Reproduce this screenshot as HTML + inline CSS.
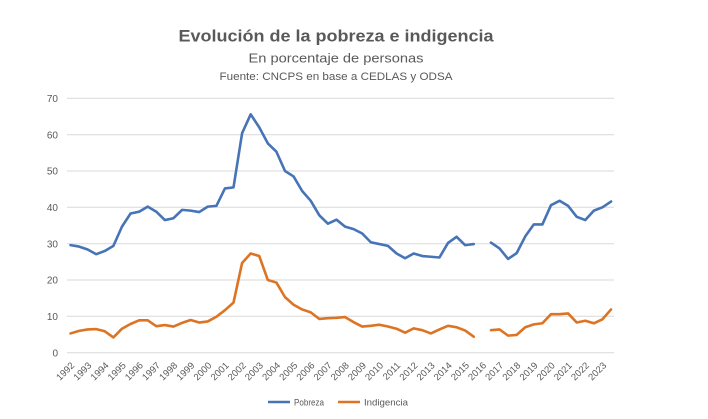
<!DOCTYPE html>
<html>
<head>
<meta charset="utf-8">
<style>
  html, body { margin: 0; padding: 0; background: #ffffff; }
  body { width: 708px; height: 419px; overflow: hidden; }
  svg { display: block; }
  text { font-family: "Liberation Sans", "DejaVu Sans", sans-serif; fill: #595959; }
</style>
</head>
<body>
<svg width="708" height="419" viewBox="0 0 708 419" xmlns="http://www.w3.org/2000/svg">
  <rect x="0" y="0" width="708" height="419" fill="#ffffff"/>

  <!-- Titles -->
  <text x="336" y="41.5" text-anchor="middle" font-size="16.5" font-weight="bold" textLength="315" lengthAdjust="spacingAndGlyphs">Evolución de la pobreza e indigencia</text>
  <text x="336" y="62.3" text-anchor="middle" font-size="12.5" textLength="175" lengthAdjust="spacingAndGlyphs">En porcentaje de personas</text>
  <text x="336" y="80" text-anchor="middle" font-size="11" textLength="233" lengthAdjust="spacingAndGlyphs">Fuente: CNCPS en base a CEDLAS y ODSA</text>

  <!-- Gridlines -->
  <g stroke="#d9d9d9" stroke-width="1">
    <line x1="67" y1="98.3" x2="614" y2="98.3"/>
    <line x1="67" y1="134.7" x2="614" y2="134.7"/>
    <line x1="67" y1="171.0" x2="614" y2="171.0"/>
    <line x1="67" y1="207.3" x2="614" y2="207.3"/>
    <line x1="67" y1="243.7" x2="614" y2="243.7"/>
    <line x1="67" y1="280.0" x2="614" y2="280.0"/>
    <line x1="67" y1="316.3" x2="614" y2="316.3"/>
    <line x1="67" y1="352.7" x2="614" y2="352.7"/>
  </g>

  <!-- Y labels -->
  <g font-size="10" text-anchor="end">
    <text x="58" y="102">70</text>
    <text x="58" y="138.3">60</text>
    <text x="58" y="174.6">50</text>
    <text x="58" y="210.9">40</text>
    <text x="58" y="247.3">30</text>
    <text x="58" y="283.6">20</text>
    <text x="58" y="319.9">10</text>
    <text x="58" y="356.3">0</text>
  </g>

  <!-- X labels -->
  <g font-size="9.5" text-anchor="end">
    <text transform="translate(75,366) rotate(-45)">1992</text>
    <text transform="translate(92.16,366) rotate(-45)">1993</text>
    <text transform="translate(109.32,366) rotate(-45)">1994</text>
    <text transform="translate(126.48,366) rotate(-45)">1995</text>
    <text transform="translate(143.64,366) rotate(-45)">1996</text>
    <text transform="translate(160.8,366) rotate(-45)">1997</text>
    <text transform="translate(177.96,366) rotate(-45)">1998</text>
    <text transform="translate(195.12,366) rotate(-45)">1999</text>
    <text transform="translate(212.28,366) rotate(-45)">2000</text>
    <text transform="translate(229.44,366) rotate(-45)">2001</text>
    <text transform="translate(246.6,366) rotate(-45)">2002</text>
    <text transform="translate(263.76,366) rotate(-45)">2003</text>
    <text transform="translate(280.92,366) rotate(-45)">2004</text>
    <text transform="translate(298.08,366) rotate(-45)">2005</text>
    <text transform="translate(315.24,366) rotate(-45)">2006</text>
    <text transform="translate(332.4,366) rotate(-45)">2007</text>
    <text transform="translate(349.56,366) rotate(-45)">2008</text>
    <text transform="translate(366.72,366) rotate(-45)">2009</text>
    <text transform="translate(383.88,366) rotate(-45)">2010</text>
    <text transform="translate(401.04,366) rotate(-45)">2011</text>
    <text transform="translate(418.2,366) rotate(-45)">2012</text>
    <text transform="translate(435.36,366) rotate(-45)">2013</text>
    <text transform="translate(452.52,366) rotate(-45)">2014</text>
    <text transform="translate(469.68,366) rotate(-45)">2015</text>
    <text transform="translate(486.84,366) rotate(-45)">2016</text>
    <text transform="translate(504,366) rotate(-45)">2017</text>
    <text transform="translate(521.16,366) rotate(-45)">2018</text>
    <text transform="translate(538.32,366) rotate(-45)">2019</text>
    <text transform="translate(555.48,366) rotate(-45)">2020</text>
    <text transform="translate(572.64,366) rotate(-45)">2021</text>
    <text transform="translate(589.8,366) rotate(-45)">2022</text>
    <text transform="translate(606.96,366) rotate(-45)">2023</text>
  </g>

  <!-- Series (data coords: x = semester index, y = percent) -->
  <g transform="translate(70.5,352.7) scale(8.58,-3.634)" fill="none" stroke-linejoin="round" stroke-linecap="round">
    <!-- Pobreza -->
    <polyline vector-effect="non-scaling-stroke" stroke="#4674b6" stroke-width="2.6"
      points="0,29.6 1,29.2 2,28.4 3,27.1 4,28.0 5,29.4 6,34.7 7,38.3 8,38.8 9,40.2 10,38.8 11,36.5 12,37.0 13,39.3 14,39.1 15,38.7 16,40.2 17,40.4 18,45.2 19,45.5 20,60.4 21,65.6 22,62.0 23,57.6 24,55.3 25,50.0 26,48.5 27,44.5 28,41.8 29,37.8 30,35.5 31,36.6 32,34.7 33,34.0 34,32.8 35,30.4 36,29.9 37,29.4 38,27.3 39,26.0 40,27.3 41,26.6 42,26.4 43,26.2 44,30.2 45,31.9 46,29.6 47,29.9"/>
    <polyline vector-effect="non-scaling-stroke" stroke="#4674b6" stroke-width="2.6"
      points="49,30.3 50,28.7 51,25.8 52,27.4 53,32.0 54,35.3 55,35.3 56,40.6 57,41.8 58,40.4 59,37.4 60,36.5 61,39.1 62,40.0 63,41.6"/>
    <!-- Indigencia -->
    <polyline vector-effect="non-scaling-stroke" stroke="#dd7424" stroke-width="2.6"
      points="0,5.3 1,6.0 2,6.4 3,6.5 4,5.9 5,4.2 6,6.6 7,7.9 8,8.9 9,8.9 10,7.3 11,7.6 12,7.2 13,8.2 14,9.0 15,8.3 16,8.6 17,9.9 18,11.7 19,13.8 20,24.7 21,27.3 22,26.6 23,20.0 24,19.3 25,15.3 26,13.2 27,11.9 28,11.1 29,9.3 30,9.5 31,9.6 32,9.8 33,8.4 34,7.2 35,7.4 36,7.7 37,7.2 38,6.6 39,5.5 40,6.7 41,6.2 42,5.3 43,6.4 44,7.4 45,7.0 46,6.1 47,4.4"/>
    <polyline vector-effect="non-scaling-stroke" stroke="#dd7424" stroke-width="2.6"
      points="49,6.2 50,6.4 51,4.7 52,4.9 53,7.0 54,7.8 55,8.1 56,10.6 57,10.6 58,10.8 59,8.3 60,8.8 61,8.1 62,9.2 63,11.9"/>
  </g>

  <!-- Legend -->
  <line x1="268" y1="402" x2="290" y2="402" stroke="#4674b6" stroke-width="2.6"/>
  <text x="294" y="405.5" font-size="9.5" textLength="30" lengthAdjust="spacingAndGlyphs">Pobreza</text>
  <line x1="338" y1="402" x2="360" y2="402" stroke="#dd7424" stroke-width="2.6"/>
  <text x="364" y="405.5" font-size="9.5" textLength="44" lengthAdjust="spacingAndGlyphs">Indigencia</text>
</svg>
</body>
</html>
